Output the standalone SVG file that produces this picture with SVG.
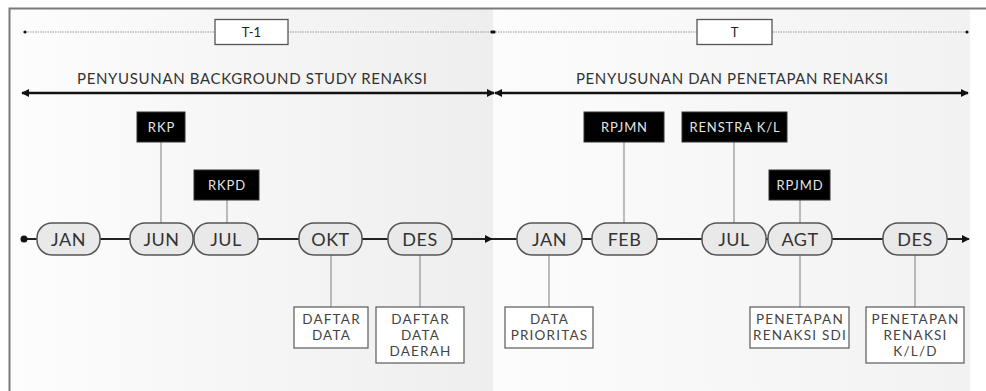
<svg xmlns="http://www.w3.org/2000/svg" width="986" height="391" viewBox="0 0 986 391">
<defs>
<linearGradient id="gL" x1="0" y1="0" x2="1" y2="0"><stop offset="0" stop-color="#fdfdfd"/><stop offset="1" stop-color="#eeeeee"/></linearGradient>
<linearGradient id="gR" x1="0" y1="0" x2="1" y2="0"><stop offset="0" stop-color="#fcfcfc"/><stop offset="1" stop-color="#f2f2f2"/></linearGradient>
<marker id="ah" viewBox="0 0 10 10" refX="9" refY="5" markerWidth="3.2" markerHeight="3.2" orient="auto-start-reverse"><path d="M0,0 L10,5 L0,10 z" fill="#111"/></marker>
<marker id="ahs" viewBox="0 0 10 10" refX="9" refY="5" markerWidth="4" markerHeight="4" orient="auto-start-reverse"><path d="M0,0 L10,5 L0,10 z" fill="#111"/></marker>
</defs>
<style>
text{font-family:Lato,"Open Sans","Liberation Sans",sans-serif}
.title{font-size:15px;fill:#333;text-anchor:middle}
.yr{font-size:13px;fill:#222;text-anchor:middle}
.yrbox{fill:#fff;stroke:#555;stroke-width:1.3}
.pill{fill:#e9e9e9;stroke:#555;stroke-width:1.5}
.mon{font-size:18px;fill:#333;text-anchor:middle;letter-spacing:0.5px}
.blk{fill:#000;stroke:#333;stroke-width:1}
.blkt{font-size:13px;fill:#e4e4e4;text-anchor:middle;letter-spacing:0.9px}
.wbox{fill:#fff;stroke:#666;stroke-width:1.3}
.wt{font-size:13.5px;fill:#444;text-anchor:middle;letter-spacing:1.2px}
.stem{stroke:#999;stroke-width:1.3;fill:none}
.dot{stroke:#999;stroke-width:1;stroke-dasharray:1.5 1;fill:none}
.thick{stroke:#111;stroke-width:2.6;fill:none}
.tl{stroke:#222;stroke-width:2;fill:none}
</style>
<rect x="0" y="0" width="986" height="391" fill="#fff"/>
<rect x="10" y="9" width="483" height="382" fill="url(#gL)"/>
<rect x="493" y="9" width="477" height="382" fill="url(#gR)"/>
<path d="M9.5,391 V8.5 H986" fill="none" stroke="#7a7a7a" stroke-width="2"/>

<g id="connectors">
<line class="dot" x1="25" y1="32" x2="493" y2="32"/>
<line class="dot" x1="493" y1="32" x2="967" y2="32"/>
<circle cx="25" cy="32" r="1.6" fill="#111"/>
<rect x="490.5" y="30.5" width="5" height="3" rx="1" fill="#111"/>
<circle cx="967" cy="32" r="1.6" fill="#111"/>
<line class="thick" x1="22" y1="93" x2="494" y2="93" marker-start="url(#ah)" marker-end="url(#ah)"/>
<line class="thick" x1="495" y1="93" x2="968" y2="93" marker-start="url(#ah)" marker-end="url(#ah)"/>
<line class="tl" x1="24" y1="239" x2="492" y2="239" marker-end="url(#ahs)"/>
<line class="tl" x1="492" y1="239" x2="969" y2="239" marker-end="url(#ahs)"/>
<circle cx="24" cy="239" r="3.5" fill="#111"/>
<line class="stem" x1="161" y1="142" x2="161" y2="223"/>
<line class="stem" x1="227" y1="200" x2="227" y2="223"/>
<line class="stem" x1="331" y1="255" x2="331" y2="307"/>
<line class="stem" x1="420" y1="255" x2="420" y2="307"/>
<line class="stem" x1="624" y1="142" x2="624" y2="223"/>
<line class="stem" x1="734" y1="142" x2="734" y2="223"/>
<line class="stem" x1="800" y1="200" x2="800" y2="223"/>
<line class="stem" x1="549" y1="255" x2="549" y2="307"/>
<line class="stem" x1="800" y1="255" x2="800" y2="307"/>
<line class="stem" x1="915" y1="255" x2="915" y2="307"/>
</g>

<g id="year-t1"><rect class="yrbox" x="215" y="19.5" width="73" height="25"/><text class="yr" x="251.5" y="36.5">T-1</text></g>
<g id="year-t"><rect class="yrbox" x="697" y="19.5" width="75" height="25"/><text class="yr" x="734.5" y="36.5">T</text></g>
<g id="phase-1"><text class="title" x="252" y="84" textLength="350" lengthAdjust="spacing">PENYUSUNAN BACKGROUND STUDY RENAKSI</text></g>
<g id="phase-2"><text class="title" x="732" y="84" textLength="312" lengthAdjust="spacing">PENYUSUNAN DAN PENETAPAN RENAKSI</text></g>

<g id="m-jan1"><rect class="pill" x="37" y="223" width="63" height="32" rx="15"/><text class="mon" x="68.5" y="245.5">JAN</text></g>
<g id="m-jun1"><rect class="pill" x="130" y="223" width="63" height="32" rx="15"/><text class="mon" x="161.5" y="245.5">JUN</text></g>
<g id="m-jul1"><rect class="pill" x="194" y="223" width="64" height="32" rx="15"/><text class="mon" x="226" y="245.5">JUL</text></g>
<g id="m-okt1"><rect class="pill" x="299" y="223" width="63" height="32" rx="15"/><text class="mon" x="330.5" y="245.5">OKT</text></g>
<g id="m-des1"><rect class="pill" x="388" y="223" width="64" height="32" rx="15"/><text class="mon" x="420" y="245.5">DES</text></g>
<g id="m-jan2"><rect class="pill" x="517" y="223" width="65" height="32" rx="15"/><text class="mon" x="549.5" y="245.5">JAN</text></g>
<g id="m-feb2"><rect class="pill" x="592" y="223" width="65" height="32" rx="15"/><text class="mon" x="624.5" y="245.5">FEB</text></g>
<g id="m-jul2"><rect class="pill" x="702" y="223" width="64" height="32" rx="15"/><text class="mon" x="734" y="245.5">JUL</text></g>
<g id="m-agt2"><rect class="pill" x="768" y="223" width="64" height="32" rx="15"/><text class="mon" x="800" y="245.5">AGT</text></g>
<g id="m-des2"><rect class="pill" x="883" y="223" width="64" height="32" rx="15"/><text class="mon" x="915" y="245.5">DES</text></g>

<g id="doc-rkp"><rect class="blk" x="137" y="112" width="48" height="30"/><text class="blkt" x="161.5" y="131.5">RKP</text></g>
<g id="doc-rkpd"><rect class="blk" x="194" y="170" width="65" height="30"/><text class="blkt" x="227" y="189.5">RKPD</text></g>
<g id="doc-rpjmn"><rect class="blk" x="584" y="112" width="80" height="30"/><text class="blkt" x="624.5" y="131.5">RPJMN</text></g>
<g id="doc-renstra"><rect class="blk" x="682" y="112" width="105" height="30"/><text class="blkt" x="735" y="131.5">RENSTRA K/L</text></g>
<g id="doc-rpjmd"><rect class="blk" x="769" y="170" width="61" height="30"/><text class="blkt" x="800" y="189.5">RPJMD</text></g>

<g id="out-daftar-data"><rect class="wbox" x="294" y="307" width="74" height="41"/><text class="wt" x="331.5" y="324">DAFTAR</text><text class="wt" x="331.5" y="340">DATA</text></g>
<g id="out-daftar-data-daerah"><rect class="wbox" x="376" y="307" width="88" height="56"/><text class="wt" x="420.5" y="324">DAFTAR</text><text class="wt" x="420.5" y="340">DATA</text><text class="wt" x="420.5" y="356">DAERAH</text></g>
<g id="out-data-prioritas"><rect class="wbox" x="505" y="307" width="88" height="41"/><text class="wt" x="549.5" y="324">DATA</text><text class="wt" x="549.5" y="340">PRIORITAS</text></g>
<g id="out-penetapan-sdi"><rect class="wbox" x="750" y="307" width="99" height="41"/><text class="wt" x="800" y="324">PENETAPAN</text><text class="wt" x="800" y="340">RENAKSI SDI</text></g>
<g id="out-penetapan-kld"><rect class="wbox" x="866" y="307" width="98" height="56"/><text class="wt" x="915.5" y="324">PENETAPAN</text><text class="wt" x="915.5" y="340">RENAKSI</text><text class="wt" x="915.5" y="356">K/L/D</text></g>
</svg>
